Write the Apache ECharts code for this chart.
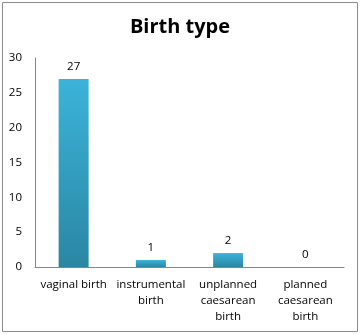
<!DOCTYPE html>
<html>
<head>
<meta charset="utf-8">
<script src="https://cdn.jsdelivr.net/npm/echarts@6/dist/echarts.min.js"></script>
<style>
  html, body { margin: 0; padding: 0; background: #fff; }
  #chart { width: 360px; height: 334px; }
</style>
</head>
<body>
<div id="chart"></div>
<script>
// Birth type counts
const categories = ['vaginal birth', 'instrumental\nbirth', 'unplanned\ncaesarean\nbirth', 'planned\ncaesarean\nbirth'];
const counts = [27, 1, 2, 0];
const yTicks = [0, 5, 10, 15, 20, 25, 30];

const font = 'Open Sans, Noto Sans, sans-serif';
const chart = echarts.init(document.getElementById('chart'), null, { renderer: 'canvas' });

chart.setOption({
  animation: false,
  backgroundColor: '#ffffff',
  graphic: [{
    type: 'rect',
    shape: { x: 2.5, y: 2.5, width: 355, height: 329 },
    style: { fill: 'none', stroke: '#8c8c8c', lineWidth: 1 },
    silent: true
  }],
  title: {
    text: 'Birth type',
    left: 'center',
    top: 12,
    textStyle: { fontFamily: font, fontWeight: 'bold', fontSize: 20, color: '#000' }
  },
  grid: { left: 35, right: 16, top: 58, bottom: 67, containLabel: false },
  xAxis: {
    type: 'category',
    data: categories,
    axisLine: { lineStyle: { color: '#868686', width: 1 } },
    axisTick: { show: false },
    axisLabel: {
      interval: 0,
      margin: 10,
      fontFamily: font,
      fontSize: 11.5,
      lineHeight: 16,
      color: '#000'
    }
  },
  yAxis: {
    type: 'value',
    min: yTicks[0],
    max: yTicks[yTicks.length - 1],
    interval: yTicks[1] - yTicks[0],
    splitLine: { show: false },
    axisLine: { show: true, lineStyle: { color: '#868686', width: 1 } },
    axisTick: { show: false },
    axisLabel: { fontFamily: font, fontSize: 11.5, color: '#000', margin: 13 }
  },
  series: [{
    type: 'bar',
    data: counts,
    barWidth: 30,
    itemStyle: {
      color: new echarts.graphic.LinearGradient(0, 0, 0, 1, [
        { offset: 0, color: '#3cb3da' },
        { offset: 1, color: '#2a87a2' }
      ])
    },
    label: {
      show: true,
      position: 'top',
      distance: 6,
      fontFamily: font,
      fontSize: 11.5,
      color: '#000'
    }
  }]
});
</script>
</body>
</html>
